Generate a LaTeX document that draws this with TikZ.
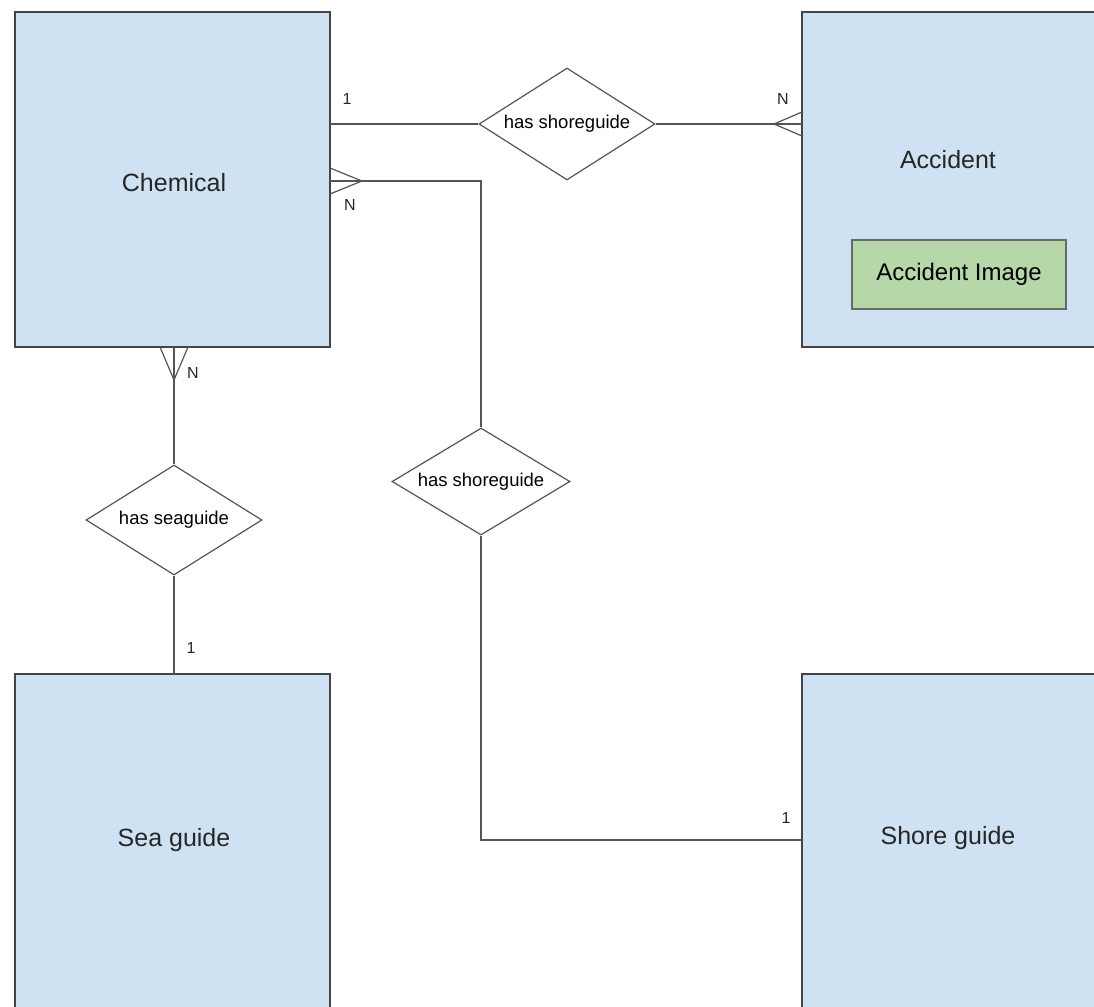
\documentclass[tikz,border=0pt]{standalone}
\usepackage{fontspec}
\setmainfont{Liberation Sans}
\usetikzlibrary{shapes.geometric}
\definecolor{entfill}{HTML}{CFE2F3}
\definecolor{attfill}{HTML}{B6D7A8}
\definecolor{edgec}{HTML}{444444}
\definecolor{connc}{HTML}{555555}
\begin{document}
\begin{tikzpicture}[x=1pt,y=-1pt,
  entity/.style={draw=edgec, line width=1.6pt, fill=entfill, rectangle, inner sep=0pt},
  attbox/.style={draw=edgec!80, line width=1.2pt, fill=attfill, rectangle, inner sep=0pt,
                 minimum width=214pt, minimum height=69pt, font=\fontsize{24}{28}\selectfont},
  rel/.style={draw=connc, line width=1.2pt, fill=white, diamond, inner sep=0pt, aspect=1.6,
              minimum width=176pt, minimum height=110pt, font=\fontsize{18.5}{22}\selectfont},
  conn/.style={draw=connc, line width=1.2pt},
  card/.style={font=\fontsize{16}{19}\selectfont, text=black!85},
  big/.style={font=\fontsize{25}{30}\selectfont, text=black!85}]
\useasboundingbox (0,0) rectangle (1094,1006);
\clip (0,0) rectangle (1094,1006);
% entities
\node[entity, minimum width=315pt, minimum height=335pt] (chem) at (172.5,179.5) {};
\node[entity, minimum width=318pt, minimum height=335pt] (acc) at (961,179.5) {};
\node[entity, minimum width=315pt, minimum height=356pt] (sea) at (172.5,852) {};
\node[entity, minimum width=318pt, minimum height=356pt] (shore) at (961,852) {};
\node[big] (chemt) at (174,183) {Chemical};
\node[big] (acct) at (948,160) {Accident};
\node[big] (seat) at (174,840) {Sea guide};
\node[big] (shoret) at (948,838) {Shore guide};
\node[attbox] (accimg) at (959,274.5) {Accident Image};
% relationships
\node[rel, minimum height=112pt] (r1) at (567,124) {has shoreguide};
\node[rel] (r2) at (174,520) {has seaguide};
\node[rel, minimum width=178pt, minimum height=107pt] (r3) at (481,481.5) {has shoreguide};
% connectors
\coordinate (c1) at (330,124);
\coordinate (a1) at (802,124);
\draw[conn] (c1) -- (r1.west);
\draw[conn] (r1.east) -- (a1);
\draw[conn] (a1) ++(-28,0) -- ++(28,-12);
\draw[conn] (a1) ++(-28,0) -- ++(28,12);

\coordinate (c2) at (330,181);
\coordinate (b2) at (481,181);
\draw[conn] (c2) -- (b2) -- (r3.north);
\draw[conn] (c2) ++(32,0) -- ++(-32,-13);
\draw[conn] (c2) ++(32,0) -- ++(-32,13);

\coordinate (c3) at (481,840);
\coordinate (s3) at (802,840);
\draw[conn] (r3.south) -- (c3) -- (s3);

\coordinate (c4) at (174,347);
\draw[conn] (c4) -- (r2.north);
\draw[conn] (c4) ++(0,33) -- ++(-14,-33);
\draw[conn] (c4) ++(0,33) -- ++(14,-33);
\coordinate (s4) at (174,674);
\draw[conn] (r2.south) -- (s4);
% cardinalities
\node[card] (l1) at (347,99) {1};
\node[card] (l2) at (783,99) {N};
\node[card] (l3) at (350,205) {N};
\node[card] (l4) at (193,373) {N};
\node[card] (l5) at (191,648) {1};
\node[card] (l6) at (786,818) {1};
\end{tikzpicture}
\end{document}
